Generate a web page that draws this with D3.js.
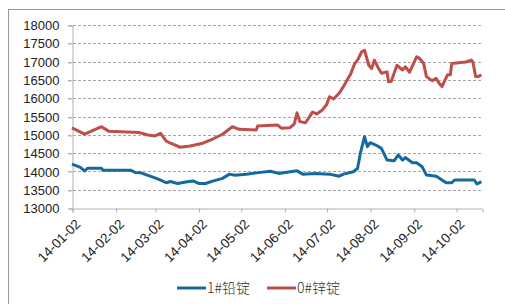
<!DOCTYPE html>
<html>
<head>
<meta charset="utf-8">
<script src="https://cdn.jsdelivr.net/npm/d3@7"></script>
<style>
  body { margin: 0; background: #fff; }
  svg { display: block; font-family: "Liberation Sans", Arial, sans-serif; }
</style>
</head>
<body>
<div id="chart"></div>
<script>
// series names
const seriesNames = ["1#铅锭", "0#锌锭"];

// 1# lead ingot
const leadDates = ["2014-01-02","2014-01-08","2014-01-11","2014-01-13","2014-01-23","2014-01-24","2014-02-13","2014-02-16","2014-02-20","2014-02-25","2014-03-02","2014-03-06","2014-03-10","2014-03-13","2014-03-18","2014-03-25","2014-03-29","2014-04-02","2014-04-07","2014-04-12","2014-04-19","2014-04-24","2014-04-28","2014-05-06","2014-05-13","2014-05-23","2014-05-29","2014-06-11","2014-06-15","2014-06-24","2014-07-04","2014-07-11","2014-07-14","2014-07-21","2014-07-24","2014-07-26","2014-07-29","2014-07-31","2014-08-02","2014-08-06","2014-08-10","2014-08-14","2014-08-19","2014-08-22","2014-08-25","2014-08-27","2014-09-01","2014-09-04","2014-09-08","2014-09-11","2014-09-18","2014-09-25","2014-09-29","2014-10-01","2014-10-15","2014-10-17","2014-10-20"];
const leadValues = [14200,14110,14010,14085,14085,14030,14030,13970,13960,13890,13825,13760,13690,13725,13670,13715,13740,13670,13670,13735,13810,13925,13895,13925,13960,14005,13945,14015,13925,13945,13925,13870,13925,13990,14080,14490,14950,14675,14785,14720,14630,14310,14290,14450,14310,14380,14235,14235,14125,13900,13870,13690,13690,13765,13765,13655,13720];

// 0# zinc ingot
const zincDates = ["2014-01-02","2014-01-11","2014-01-23","2014-01-28","2014-02-19","2014-02-25","2014-03-02","2014-03-06","2014-03-10","2014-03-13","2014-03-20","2014-03-27","2014-04-05","2014-04-12","2014-04-19","2014-04-23","2014-04-26","2014-05-01","2014-05-13","2014-05-14","2014-05-28","2014-05-31","2014-06-06","2014-06-09","2014-06-11","2014-06-13","2014-06-17","2014-06-22","2014-06-25","2014-06-29","2014-07-02","2014-07-04","2014-07-07","2014-07-11","2014-07-14","2014-07-18","2014-07-19","2014-07-22","2014-07-24","2014-07-27","2014-07-29","2014-08-01","2014-08-03","2014-08-05","2014-08-08","2014-08-10","2014-08-14","2014-08-15","2014-08-17","2014-08-21","2014-08-25","2014-08-27","2014-08-30","2014-09-04","2014-09-06","2014-09-09","2014-09-11","2014-09-15","2014-09-18","2014-09-20","2014-09-22","2014-09-26","2014-09-28","2014-09-29","2014-10-09","2014-10-13","2014-10-14","2014-10-16","2014-10-18","2014-10-20"];
const zincValues = [15190,15020,15220,15100,15060,14995,14970,15040,14830,14770,14660,14695,14770,14885,15015,15130,15220,15150,15130,15240,15270,15180,15195,15295,15600,15360,15330,15620,15570,15680,15820,16040,15980,16140,16320,16590,16650,16950,17040,17270,17310,16900,16810,17040,16810,16680,16720,16450,16465,16900,16770,16860,16710,17130,17090,16950,16590,16480,16540,16410,16320,16640,16640,16950,16990,17040,16990,16590,16590,16640];

// axis
const yTicks = [13000,13500,14000,14500,15000,15500,16000,16500,17000,17500,18000];
const xTickDates = ["2014-01-02","2014-02-02","2014-03-02","2014-04-02","2014-05-02","2014-06-02","2014-07-02","2014-08-02","2014-09-02","2014-10-02"];

const colors = { lead: "#146a9f", zinc: "#bf4d4a", grid: "#a6a6a6", axis: "#b0b0b0", text: "#222" };

const width = 505, height = 304;
const parse = d3.timeParse("%Y-%m-%d");
const fmt = d3.timeFormat("%y-%m-%d");

const svg = d3.select("#chart").append("svg")
    .attr("width", width)
    .attr("height", height);

// outer frame
svg.append("rect")
    .attr("x", 8.5).attr("y", 9.5)
    .attr("width", 520).attr("height", 320)
    .attr("fill", "none")
    .attr("stroke", "#9a9a9a");

const x = d3.scaleTime()
    .domain([parse("2014-01-02"), new Date(2014, 9, 20, 12)])
    .range([72, 482]);
const y = d3.scaleLinear()
    .domain([13000, 18000])
    .range([208, 25]);

// gridlines
svg.append("g")
    .selectAll("line")
    .data(yTicks.filter(d => d > 13000))
    .enter().append("line")
    .attr("x1", 68).attr("x2", 482)
    .attr("y1", d => Math.round(y(d)) + 0.5)
    .attr("y2", d => Math.round(y(d)) + 0.5)
    .attr("stroke", colors.grid)
    .attr("stroke-dasharray", "3,2");

// y axis
const yAxis = svg.append("g")
    .attr("transform", "translate(72.5,0.5)")
    .call(d3.axisLeft(y).tickValues(yTicks).tickSize(4).tickPadding(9).tickFormat(d3.format("d")));
yAxis.select(".domain").attr("stroke", colors.axis);
yAxis.selectAll(".tick line").attr("stroke", colors.axis)
    .attr("y1", d => Math.round(y(d)) - y(d)).attr("y2", d => Math.round(y(d)) - y(d));
yAxis.selectAll(".tick text").attr("fill", colors.text).style("font-size", "13px")
    .attr("dx", 0);

// x axis
const xAxis = svg.append("g")
    .attr("transform", "translate(0.5,208.5)")
    .call(d3.axisBottom(x).tickValues(xTickDates.map(parse)).tickSize(4).tickFormat(fmt));
xAxis.select(".domain").attr("stroke", colors.axis);
xAxis.selectAll(".tick line").attr("stroke", colors.axis);
xAxis.selectAll(".tick text")
    .attr("fill", colors.text)
    .style("font-size", "13.5px")
    .attr("text-anchor", "end")
    .attr("transform", "translate(5,13) rotate(-45)")
    .attr("x", 0).attr("y", 0).attr("dy", "0.35em");

// lines
const line = d3.line()
    .x(d => x(d.date))
    .y(d => y(d.value));

const series = [
    { name: seriesNames[0], color: colors.lead, points: leadDates.map((d, i) => ({ date: parse(d), value: leadValues[i] })) },
    { name: seriesNames[1], color: colors.zinc, points: zincDates.map((d, i) => ({ date: parse(d), value: zincValues[i] })) }
];

svg.append("g")
    .selectAll("path")
    .data(series)
    .enter().append("path")
    .attr("d", d => line(d.points))
    .attr("fill", "none")
    .attr("stroke", d => d.color)
    .attr("stroke-width", 3)
    .attr("stroke-linejoin", "round");

// legend
const legend = svg.append("g")
    .selectAll("g")
    .data(series)
    .enter().append("g")
    .attr("transform", (d, i) => "translate(" + (177 + i * 90) + ",288)");
legend.append("line")
    .attr("x1", 0).attr("x2", 29)
    .attr("stroke", d => d.color)
    .attr("stroke-width", 3);
legend.append("text")
    .attr("x", 30)
    .attr("dy", "0.35em")
    .attr("fill", "#333")
    .style("font-size", "14px")
    .style("font-family", "'Noto Sans CJK SC', sans-serif")
    .style("font-weight", 300)
    .text(d => d.name);
</script>
</body>
</html>
